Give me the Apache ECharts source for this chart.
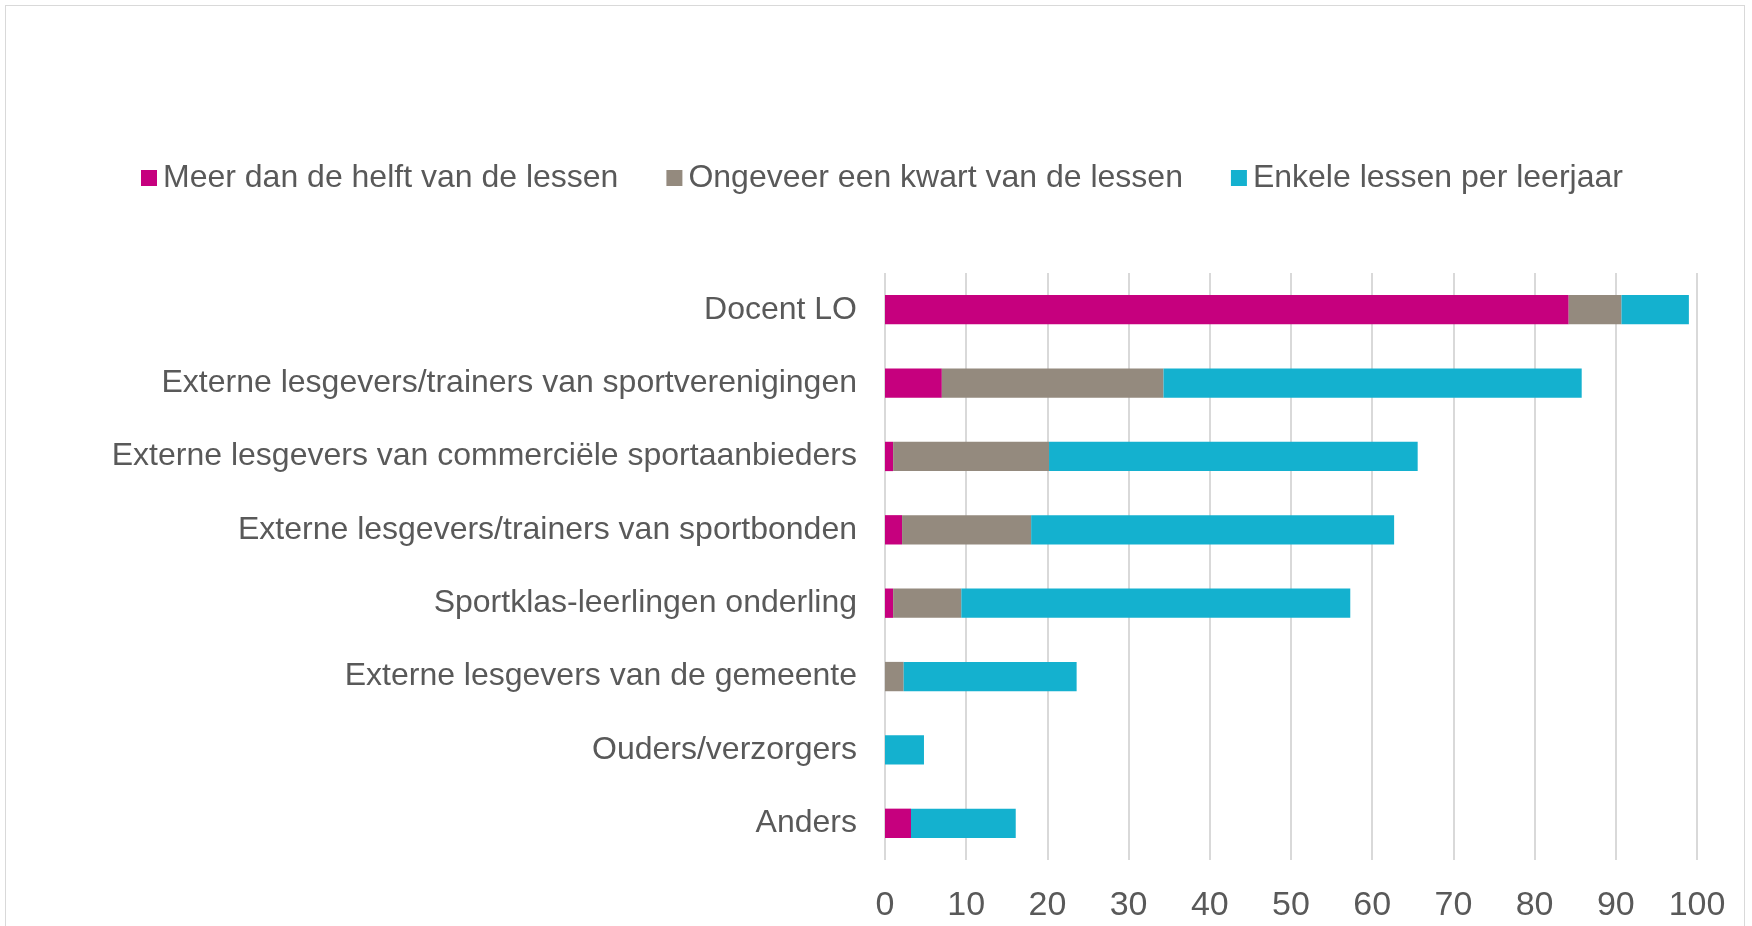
<!DOCTYPE html>
<html>
<head>
<meta charset="utf-8">
<script src="https://cdn.jsdelivr.net/npm/echarts@6/dist/echarts.min.js"></script>
<style>
  html, body { margin: 0; padding: 0; background: #fff; }
  #frame {
    position: absolute; left: 5px; top: 5px; width: 1740px; height: 940px;
    border: 1px solid #d9d9d9; box-sizing: border-box;
  }
  #chart { position: absolute; left: 0; top: 0; width: 1752px; height: 926px; }
</style>
</head>
<body>
<div id="frame"></div>
<div id="chart"></div>
<script>
const categories = [
  'Docent LO',
  'Externe lesgevers/trainers van sportverenigingen',
  'Externe lesgevers van commerciële sportaanbieders',
  'Externe lesgevers/trainers van sportbonden',
  'Sportklas-leerlingen onderling',
  'Externe lesgevers van de gemeente',
  'Ouders/verzorgers',
  'Anders'
]
const seriesNames = [
  'Meer dan de helft van de lessen',
  'Ongeveer een kwart van de lessen',
  'Enkele lessen per leerjaar'
]
const meerDanHelft = [84.2, 7.0, 1.0, 2.1, 1.0, 0, 0, 3.2]
const kwart = [6.5, 27.3, 19.2, 15.9, 8.4, 2.3, 0, 0]
const enkele = [8.3, 51.5, 45.4, 44.7, 47.9, 21.3, 4.8, 12.9]
const colors = ['#c6007e', '#948a7e', '#14b1cf']

const chart = echarts.init(document.getElementById('chart'))

const textColor = '#595959'
const font = 'Arial, "Liberation Sans", sans-serif'

const option = {
  animation: false,
  color: colors,
  legend: {
    top: 157,
    left: 136,
    itemWidth: 16,
    itemHeight: 16,
    itemGap: 48,
    icon: 'rect',
    textStyle: {
      color: textColor,
      fontSize: 32,
      fontFamily: font,
      padding: [0, 0, 0, 1]
    },
    data: seriesNames
  },
  grid: {
    left: 885,
    right: 55,
    top: 273,
    bottom: 66,
    containLabel: false
  },
  xAxis: {
    type: 'value',
    min: 0,
    max: 100,
    interval: 10,
    axisLine: { show: false },
    axisTick: { show: false },
    splitLine: { lineStyle: { color: '#d9d9d9', width: 2 } },
    axisLabel: {
      color: textColor,
      fontSize: 34,
      fontFamily: font,
      margin: 29
    }
  },
  yAxis: {
    type: 'category',
    inverse: true,
    data: categories,
    axisLine: { show: false },
    axisTick: { show: false },
    axisLabel: {
      color: textColor,
      fontSize: 32,
      fontFamily: font,
      margin: 28,
      padding: [5, 0, 0, 0]
    }
  },
  series: [
    { name: seriesNames[0], type: 'bar', stack: 'total', data: meerDanHelft, barCategoryGap: '60%' },
    { name: seriesNames[1], type: 'bar', stack: 'total', data: kwart, barCategoryGap: '60%' },
    { name: seriesNames[2], type: 'bar', stack: 'total', data: enkele, barCategoryGap: '60%' }
  ]
}

chart.setOption(option)

window.addEventListener('resize', () => {
  chart.resize()
})
</script>
</body>
</html>
